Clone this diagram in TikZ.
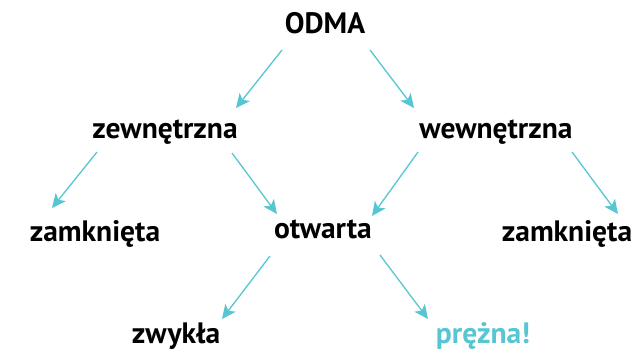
\documentclass[tikz,border=0pt]{standalone}
\usepackage{fontspec}
\setmainfont{PT Sans}
\usetikzlibrary{arrows.meta}
\definecolor{cy}{HTML}{56C6D2}
\tikzset{
  lbl/.style={font=\bfseries\fontsize{29.5}{32}\selectfont, anchor=base, inner sep=0pt, text=black},
  hl/.style={lbl, text=cy},
  arr/.style={draw=cy, line width=1.3pt, -{Stealth[length=14pt,width=13pt,inset=3.5pt]}}
}
\begin{document}
\begin{tikzpicture}[x=1pt,y=-1pt]
\useasboundingbox (0,0) rectangle (631,351);
\node[lbl] (odma) at (325,33) {ODMA};
\node[lbl] (zew) at (165,138) {zewnętrzna};
\node[lbl] (wew) at (496,138) {wewnętrzna};
\node[lbl] (zam1) at (95,241) {zamknięta};
\node[lbl] (otw) at (323,238) {otwarta};
\node[lbl] (zam2) at (567,241) {zamknięta};
\node[lbl] (zwy) at (176,343) {zwykła};
\node[hl] (pre) at (483,343) {prężna!};
\coordinate (a1s) at (282,50); \coordinate (a1e) at (236,108);
\coordinate (a2s) at (370,50); \coordinate (a2e) at (414,108);
\coordinate (a3s) at (97,152); \coordinate (a3e) at (52,208);
\coordinate (a4s) at (232,153); \coordinate (a4e) at (277,214);
\coordinate (a5s) at (418,152); \coordinate (a5e) at (372,216);
\coordinate (a6s) at (572,152); \coordinate (a6e) at (618,214);
\coordinate (a7s) at (270,256); \coordinate (a7e) at (222,319);
\coordinate (a8s) at (380,255); \coordinate (a8e) at (428,319);
\draw[arr] (a1s) -- (a1e);
\draw[arr] (a2s) -- (a2e);
\draw[arr] (a3s) -- (a3e);
\draw[arr] (a4s) -- (a4e);
\draw[arr] (a5s) -- (a5e);
\draw[arr] (a6s) -- (a6e);
\draw[arr] (a7s) -- (a7e);
\draw[arr] (a8s) -- (a8e);
\end{tikzpicture}
\end{document}
